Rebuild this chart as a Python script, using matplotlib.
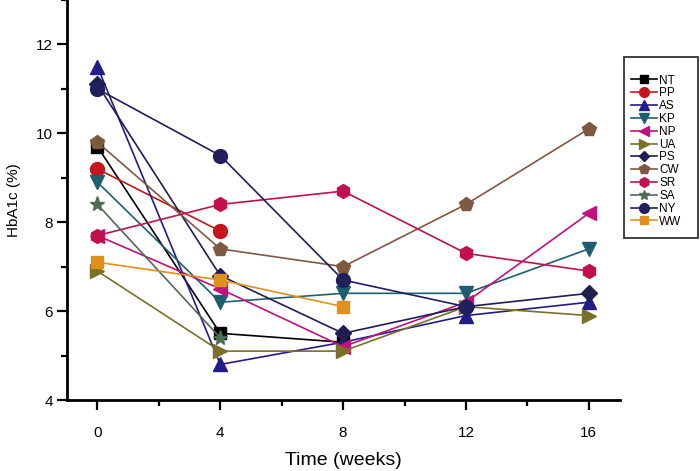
import numpy as np
import matplotlib
matplotlib.use("Agg")
import matplotlib.pyplot as plt
from matplotlib.ticker import MultipleLocator
from matplotlib.patches import Rectangle

plt.rcParams['font.family'] = ['Liberation Sans', 'DejaVu Sans']

weeks = [0, 4, 8, 12, 16]
nan = np.nan
NT = [9.7, 5.5, 5.3, nan, nan]
PP = [9.2, 7.8, nan, nan, nan]
AS = [11.5, 4.8, 5.3, 5.9, 6.2]
KP = [8.9, 6.2, 6.4, 6.4, 7.4]
NP = [7.7, 6.5, 5.2, 6.2, 8.2]
UA = [6.9, 5.1, 5.1, 6.1, 5.9]
PS = [11.1, 6.8, 5.5, 6.1, 6.4]
CW = [9.8, 7.4, 7.0, 8.4, 10.1]
SR = [7.7, 8.4, 8.7, 7.3, 6.9]
SA = [8.4, 5.4, nan, nan, nan]
NY = [11.0, 9.5, 6.7, 6.1, nan]
WW = [7.1, 6.7, 6.1, nan, nan]

names = ["NT", "PP", "AS", "KP", "NP", "UA", "PS", "CW", "SR", "SA", "NY", "WW"]
series = [NT, PP, AS, KP, NP, UA, PS, CW, SR, SA, NY, WW]
colors = ["#000000", "#c4161c", "#231b88", "#1d5f6e", "#c0127a", "#7b7028",
          "#201d52", "#7f5841", "#c2104e", "#4e6b53", "#211f5c", "#e0901c"]
markers = ["s", "o", "^", "v", "<", ">", "D", "p", "h", "*", "o", "s"]
msizes = [9, 10, 10, 10, 10, 10, 8, 10, 10, 11, 10, 9]

W, H = 700, 471
fig = plt.figure(figsize=(W / 100, H / 100), dpi=100)
ax = fig.add_axes([66.7 / W, 71 / H, (619.5 - 66.7) / W, 400 / H])

for name, vals, c, m, ms in zip(names, series, colors, markers, msizes):
    x = np.array(weeks, dtype=float)
    y = np.array(vals, dtype=float)
    ok = ~np.isnan(y)
    ax.plot(x[ok], y[ok], color=c, marker=m, markersize=ms, linewidth=1.2,
            markeredgecolor=c, label=name)

ax.set_xlim(-1, 17)
ax.set_ylim(4, 13)
ax.set_xticks([0, 4, 8, 12, 16])
ax.set_yticks([4, 6, 8, 10, 12])
ax.xaxis.set_minor_locator(MultipleLocator(2))
ax.yaxis.set_minor_locator(MultipleLocator(1))
ax.tick_params(which='major', direction='out', length=7.5, width=1.6, labelsize=11)
ax.tick_params(which='minor', direction='out', length=4, width=1.6)
ax.tick_params(axis='x', which='major', pad=11)
ax.tick_params(axis='y', which='major', pad=2.5)
ax.spines['top'].set_visible(False)
ax.spines['right'].set_visible(False)
ax.spines['left'].set_linewidth(2)
ax.spines['bottom'].set_linewidth(2)
ax.set_xlabel("Time (weeks)", fontsize=14, labelpad=9)
ax.set_ylabel("HbA1c (%)", fontsize=11, labelpad=11)

leg = fig.legend(loc='upper left', bbox_to_anchor=(631 / W, 1 - 74.5 / H),
                 fontsize=8.5, markerscale=0.7, handlelength=2.2,
                 labelspacing=0.07, borderpad=0, handletextpad=0.2,
                 frameon=False, borderaxespad=0)

frame = Rectangle((624 / W, 1 - 238 / H), (698 - 624) / W, (238 - 57) / H,
                  transform=fig.transFigure, fill=False, edgecolor='#333333',
                  linewidth=1.3)
fig.patches.append(frame)

fig.savefig("out.png", dpi=100)
